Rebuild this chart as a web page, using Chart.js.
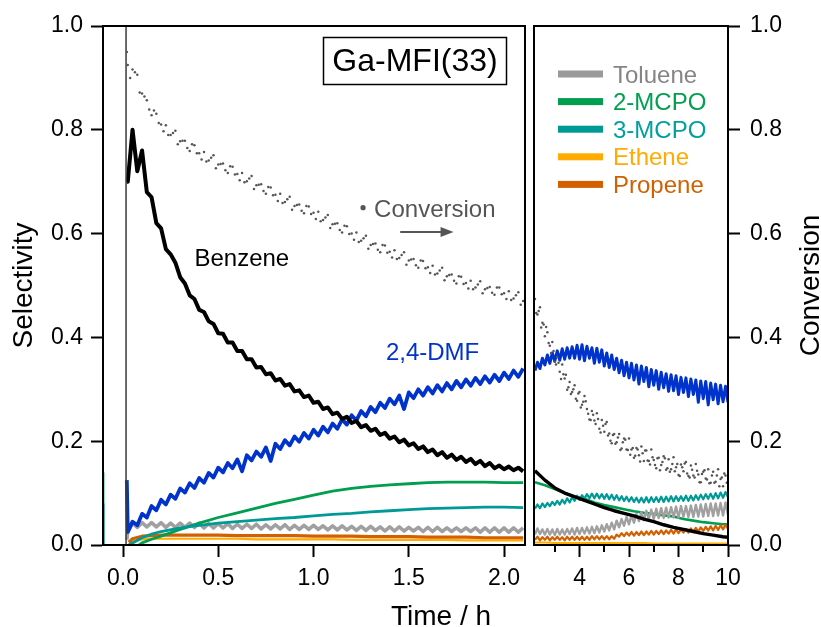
<!DOCTYPE html>
<html><head><meta charset="utf-8">
<script src="https://cdn.jsdelivr.net/npm/chart.js@4/dist/chart.umd.min.js"></script>
<style>
html,body{margin:0;padding:0;background:#fff;}
#wrap{position:relative;width:821px;height:627px;overflow:hidden;background:#fff;}
canvas{position:absolute;top:0;}
#cL{left:0;} #cR{left:530px;}
</style></head><body>
<div id="wrap"><canvas id="cL" width="530" height="627"></canvas><canvas id="cR" width="291" height="627"></canvas></div>
<script>
// ---------- tick labels ----------
const xTicksL = [0, 0.5, 1.0, 1.5, 2.0];
const xTicksR = [4, 6, 8, 10];
const xMinorR = [3, 5, 7, 9];
const yTicks = [0, 0.2, 0.4, 0.6, 0.8, 1.0];

// ---------- left panel (0 - 2.1 h) ----------
const tL = [0.02,0.025,0.05,0.075,0.1,0.125,0.15,0.175,0.2,0.225,0.25,0.275,0.3,0.325,0.35,0.375,0.4,0.425,0.45,0.475,0.5,0.525,0.55,0.575,0.6,0.625,0.65,0.675,0.7,0.725,0.75,0.775,0.8,0.825,0.85,0.875,0.9,0.925,0.95,0.975,1.0,1.025,1.05,1.075,1.1,1.125,1.15,1.175,1.2,1.225,1.25,1.275,1.3,1.325,1.35,1.375,1.4,1.425,1.45,1.475,1.5,1.525,1.55,1.575,1.6,1.625,1.65,1.675,1.7,1.725,1.75,1.775,1.8,1.825,1.85,1.875,1.9,1.925,1.95,1.975,2.0,2.025,2.05,2.075,2.1];
const tLm = [0.0375,0.0625,0.0875,0.1125,0.1375,0.1625,0.1875,0.2125,0.2375,0.2625,0.2875,0.3125,0.3375,0.3625,0.3875,0.4125,0.4375,0.4625,0.4875,0.5125,0.5375,0.5625,0.5875,0.6125,0.6375,0.6625,0.6875,0.7125,0.7375,0.7625,0.7875,0.8125,0.8375,0.8625,0.8875,0.9125,0.9375,0.9625,0.9875,1.0125,1.0375,1.0625,1.0875,1.1125,1.1375,1.1625,1.1875,1.2125,1.2375,1.2625,1.2875,1.3125,1.3375,1.3625,1.3875,1.4125,1.4375,1.4625,1.4875,1.5125,1.5375,1.5625,1.5875,1.6125,1.6375,1.6625,1.6875,1.7125,1.7375,1.7625,1.7875,1.8125,1.8375,1.8625,1.8875,1.9125,1.9375,1.9625,1.9875,2.0125,2.0375,2.0625,2.0875];
const tLc = [0.03,0.05,0.1,0.15,0.2,0.3,0.4,0.5,0.6,0.7,0.8,0.9,1.0,1.1,1.2,1.3,1.4,1.5,1.6,1.7,1.8,1.9,2.0,2.1];

const benzeneL = [0.70,
0.70,0.80,0.72,0.76,0.68,0.67,0.62,0.61,0.57,0.56,
0.544,0.516,0.504,0.481,0.474,0.453,0.449,0.431,0.426,0.408,
0.407,0.39,0.39,0.374,0.374,0.358,0.358,0.342,0.343,0.329,
0.331,0.317,0.32,0.307,0.31,0.296,0.298,0.285,0.288,0.274,
0.276,0.262,0.265,0.252,0.255,0.243,0.247,0.235,0.239,0.227,
0.231,0.22,0.224,0.212,0.216,0.205,0.209,0.198,0.203,0.192,
0.196,0.185,0.19,0.179,0.184,0.173,0.179,0.168,0.174,0.164,
0.17,0.16,0.166,0.156,0.162,0.152,0.158,0.148,0.153,0.146,
0.151,0.144,0.149,0.142];
const dmfL = [0.125,
0.025,0.045,0.038,0.06,0.053,0.075,0.067,0.087,0.078,0.097,
0.089,0.109,0.101,0.119,0.11,0.129,0.12,0.139,0.13,0.149,
0.14,0.158,0.148,0.165,0.142,0.173,0.163,0.18,0.17,0.188,
0.162,0.195,0.185,0.202,0.192,0.209,0.199,0.216,0.205,0.222,
0.211,0.228,0.217,0.234,0.224,0.242,0.232,0.25,0.24,0.258,
0.248,0.266,0.256,0.274,0.264,0.282,0.271,0.288,0.262,0.294,
0.283,0.3,0.288,0.304,0.292,0.308,0.296,0.312,0.3,0.316,
0.304,0.319,0.307,0.322,0.31,0.325,0.313,0.328,0.316,0.332,
0.32,0.336,0.324,0.34];
const tolueneL = [0.01,
0.025,0.042,0.034,0.043,0.035,0.043,0.035,0.043,0.034,0.042,0.034,
0.042,0.034,0.042,0.034,0.042,0.033,0.041,0.033,0.041,0.033,
0.041,0.032,0.04,0.032,0.04,0.032,0.04,0.031,0.039,0.031,
0.039,0.031,0.039,0.03,0.038,0.03,0.038,0.03,0.038,0.03,
0.037,0.029,0.037,0.029,0.037,0.029,0.036,0.028,0.036,0.028,
0.036,0.028,0.035,0.027,0.035,0.027,0.035,0.027,0.034,0.027,
0.034,0.026,0.034,0.026,0.034,0.026,0.033,0.026,0.033,0.026,
0.033,0.026,0.033,0.025,0.033,0.025,0.033,0.025,0.033,0.025,
0.033,0.025,0.033];
const convLA = [0.95,0.925,0.916,0.906,0.87,0.857,0.828,0.831,0.81,0.809,0.79,0.798,0.778,0.779,0.759,0.77,0.755,0.757,0.741,0.751,0.733,0.735,0.717,0.729,0.715,0.717,0.701,0.711,0.693,0.695,0.677,0.689,0.675,0.677,0.661,0.671,0.653,0.656,0.639,0.652,0.64,0.642,0.626,0.636,0.618,0.62,0.602,0.614,0.6,0.602,0.586,0.596,0.578,0.581,0.564,0.577,0.565,0.568,0.553,0.564,0.548,0.551,0.534,0.547,0.535,0.538,0.523,0.534,0.518,0.521,0.504,0.517,0.505,0.509,0.496,0.508,0.493,0.497,0.482,0.496,0.485,0.489,0.475,0.487,0.47];
const convLB = [0.9,0.911,0.872,0.864,0.839,0.837,0.813,0.797,0.79,0.794,
0.772,0.779,0.765,0.772,0.755,0.743,0.739,0.746,0.726,0.734,
0.722,0.73,0.714,0.703,0.699,0.706,0.686,0.694,0.682,0.69,
0.674,0.663,0.659,0.666,0.646,0.655,0.644,0.653,0.638,0.628,
0.624,0.631,0.611,0.619,0.607,0.615,0.599,0.588,0.584,0.591,
0.571,0.58,0.569,0.578,0.563,0.554,0.551,0.559,0.54,0.55,
0.539,0.548,0.533,0.524,0.521,0.529,0.51,0.52,0.509,0.518,
0.503,0.494,0.493,0.502,0.485,0.495,0.486,0.496,0.483,0.474,
0.472,0.481,0.463];
const mcpo2L = [-0.012,-0.008,0.004,0.011,0.017,0.03,0.042,0.053,0.062,0.071,0.08,0.088,0.096,0.104,0.109,0.113,0.116,0.118,0.12,0.121,0.121,0.121,0.12,0.12];
const mcpo3L = [0.0,0.004,0.014,0.021,0.026,0.033,0.038,0.042,0.045,0.048,0.051,0.053,0.056,0.059,0.061,0.064,0.066,0.068,0.07,0.071,0.072,0.073,0.073,0.072];
const propeneL = [0.005,0.012,0.017,0.018,0.019,0.019,0.019,0.019,0.018,0.018,0.018,0.018,0.017,0.017,0.017,0.016,0.016,0.016,0.015,0.015,0.015,0.014,0.014,0.014];
const etheneL = [0.0,0.007,0.011,0.012,0.012,0.012,0.012,0.012,0.012,0.011,0.011,0.011,0.011,0.011,0.01,0.01,0.01,0.01,0.01,0.01,0.009,0.009,0.009,0.009];
const startT = [0.016, 0.016];
const startV = [0, 1];
const preT = [-0.103, -0.103];
const preMcpo2 = [0, 0.14];
const preDmf = [0, 0.08];

// ---------- right panel (2.1 - 10 h) ----------
const tR = [2.2,2.3,2.4,2.5,2.6,2.7,2.8,2.9,3.0,3.1,3.2,3.3,3.4,3.5,3.6,3.7,3.8,3.9,4.0,4.1,4.2,4.3,4.4,4.5,4.6,4.7,4.8,4.9,5.0,5.1,5.2,5.3,5.4,5.5,5.6,5.7,5.8,5.9,6.0,6.1,6.2,6.3,6.4,6.5,6.6,6.7,6.8,6.9,7.0,7.1,7.2,7.3,7.4,7.5,7.6,7.7,7.8,7.9,8.0,8.1,8.2,8.3,8.4,8.5,8.6,8.7,8.8,8.9,9.0,9.1,9.2,9.3,9.4,9.5,9.6,9.7,9.8,9.9,10.0];
const tRm = [2.25,2.35,2.45,2.55,2.65,2.75,2.85,2.95,3.05,3.15,3.25,3.35,3.45,3.55,3.65,3.75,3.85,3.95,4.05,4.15,4.25,4.35,4.45,4.55,4.65,4.75,4.85,4.95,5.05,5.15,5.25,5.35,5.45,5.55,5.65,5.75,5.85,5.95,6.05,6.15,6.25,6.35,6.45,6.55,6.65,6.75,6.85,6.95,7.05,7.15,7.25,7.35,7.45,7.55,7.65,7.75,7.85,7.95,8.05,8.15,8.25,8.35,8.45,8.55,8.65,8.75,8.85,8.95,9.05,9.15,9.25,9.35,9.45,9.55,9.65,9.75,9.85,9.95];
const tRc = [2.2,2.6,3.0,3.4,3.8,4.2,4.6,5.0,5.4,5.8,6.2,6.6,7.0,7.4,7.8,8.2,8.6,9.0,9.4,9.8,10.0];

const dmfR = [0.336,0.352,0.34,0.36,0.347,0.366,0.35,0.37,0.354,0.374,
0.356,0.378,0.358,0.38,0.36,0.382,0.36,0.385,0.358,0.386,
0.355,0.383,0.36,0.38,0.35,0.379,0.352,0.376,0.345,0.37,
0.342,0.366,0.338,0.36,0.332,0.356,0.326,0.352,0.322,0.35,
0.318,0.347,0.31,0.345,0.315,0.342,0.305,0.338,0.308,0.336,
0.3,0.333,0.303,0.33,0.296,0.328,0.297,0.326,0.29,0.323,
0.294,0.322,0.286,0.32,0.29,0.318,0.275,0.316,0.282,0.315,
0.27,0.312,0.28,0.31,0.272,0.308,0.276,0.306,0.275];
const tolueneR = [0.02,0.032,0.021,0.03,0.02,0.031,0.02,0.03,0.019,0.031,
0.02,0.03,0.02,0.031,0.021,0.032,0.02,0.033,0.021,0.033,
0.022,0.034,0.022,0.035,0.023,0.036,0.024,0.038,0.026,0.04,
0.028,0.043,0.03,0.047,0.034,0.05,0.037,0.054,0.04,0.057,
0.043,0.06,0.046,0.063,0.048,0.066,0.05,0.068,0.05,0.07,
0.052,0.071,0.052,0.072,0.053,0.073,0.053,0.074,0.053,0.075,
0.054,0.075,0.054,0.076,0.054,0.077,0.055,0.078,0.055,0.079,
0.056,0.08,0.056,0.08,0.057,0.081,0.057,0.082,0.058];
const mcpo3R = [0.07,0.078,0.071,0.08,0.073,0.081,0.075,0.083,0.077,0.085,
0.078,0.087,0.08,0.09,0.082,0.092,0.085,0.095,0.087,0.096,
0.089,0.098,0.09,0.099,0.09,0.099,0.09,0.098,0.089,0.098,
0.088,0.097,0.087,0.096,0.086,0.094,0.085,0.093,0.084,0.092,
0.083,0.091,0.082,0.091,0.082,0.092,0.082,0.092,0.083,0.092,
0.083,0.093,0.083,0.093,0.084,0.094,0.084,0.094,0.085,0.094,
0.085,0.095,0.085,0.095,0.086,0.096,0.087,0.097,0.088,0.098,
0.089,0.099,0.089,0.1,0.09,0.101,0.091,0.102,0.092];
const propeneR = [0.01,0.016,0.009,0.015,0.01,0.016,0.009,0.015,0.01,0.016,
0.01,0.015,0.009,0.016,0.01,0.016,0.01,0.016,0.01,0.016,
0.01,0.016,0.01,0.017,0.011,0.017,0.011,0.017,0.011,0.017,
0.011,0.017,0.012,0.02,0.016,0.023,0.017,0.024,0.018,0.025,
0.018,0.025,0.019,0.026,0.019,0.026,0.02,0.027,0.02,0.027,
0.021,0.028,0.021,0.028,0.022,0.029,0.022,0.03,0.023,0.03,
0.024,0.031,0.024,0.032,0.025,0.033,0.026,0.034,0.027,0.035,
0.028,0.036,0.028,0.037,0.029,0.038,0.03,0.039,0.031];
const convRA = [0.474,0.444,0.458,0.428,0.402,0.41,0.384,0.391,0.353,0.362,
0.334,0.348,0.321,0.299,0.314,0.295,0.308,0.278,0.295,0.27,
0.287,0.262,0.242,0.258,0.24,0.254,0.224,0.241,0.218,0.237,
0.215,0.196,0.214,0.198,0.214,0.186,0.205,0.184,0.205,0.184,
0.168,0.187,0.173,0.19,0.162,0.182,0.162,0.184,0.164,0.148,
0.168,0.154,0.171,0.145,0.165,0.146,0.169,0.15,0.135,0.155,
0.142,0.16,0.133,0.153,0.134,0.156,0.136,0.121,0.141,0.128,
0.146,0.12,0.141,0.122,0.146,0.127,0.113,0.134,0.122];
const convRB = [0.447,0.451,0.419,0.425,0.42,0.389,0.37,0.374,0.348,0.351,
0.32,0.329,0.328,0.304,0.291,0.3,0.282,0.292,0.265,0.276,
0.277,0.253,0.241,0.251,0.233,0.243,0.217,0.23,0.233,0.211,
0.201,0.212,0.195,0.207,0.183,0.198,0.203,0.183,0.174,0.187,
0.172,0.184,0.161,0.177,0.182,0.163,0.155,0.169,0.154,0.167,
0.144,0.16,0.167,0.148,0.141,0.156,0.142,0.156,0.133,0.15,
0.157,0.138,0.13,0.145,0.13,0.143,0.121,0.137,0.144,0.126,
0.119,0.134,0.12,0.134,0.113,0.13,0.138,0.12];
const benzeneR = [0.143,0.125,0.11,0.1,0.093,0.086,0.079,0.072,0.066,0.061,0.056,0.05,0.045,0.039,0.034,0.03,0.026,0.022,0.019,0.016,0.015];
const mcpo2R = [0.121,0.115,0.108,0.1,0.094,0.089,0.082,0.077,0.073,0.069,0.065,0.062,0.06,0.057,0.055,0.05,0.047,0.044,0.042,0.04,0.04];
const etheneR = [0.005,0.005,0.004,0.004,0.004,0.004,0.004,0.004,0.004,0.004,0.004,0.004,0.003,0.003,0.003,0.003,0.003,0.003,0.003,0.003,0.003];

// ---------- legend ----------
const legendNames = ['Toluene', '2-MCPO', '3-MCPO', 'Ethene', 'Propene'];

// ---------- styling ----------
const FONT = "'Liberation Sans', Arial, Helvetica, sans-serif";
const C = {
  benzene: '#000000', dmf: '#0033cc', toluene: '#a0a0a0', mcpo2: '#009e4f',
  mcpo3: '#009a96', ethene: '#ffab00', propene: '#d25f00', conv: '#555555', start: '#3a3a3a'
};
const legendColors = ['#9a9a9a', C.mcpo2, C.mcpo3, C.ethene, C.propene];
const legendTextColors = ['#858585', '#00a050', '#00a0a0', '#ffab00', '#d06000'];

function pts(ts, vs) { const n = Math.min(ts.length, vs.length); const o = []; for (let i = 0; i < n; i++) o.push({x: ts[i], y: vs[i]}); return o; }
function lineDs(label, ts, vs, color, w) {
  return {label, data: pts(ts, vs), borderColor: color, backgroundColor: color, borderWidth: w,
    pointRadius: 0, pointHoverRadius: 0, showLine: true, tension: 0, fill: false, clip: 0,
    borderJoinStyle: 'round', borderCapStyle: 'butt'};
}
function dotDs(label, ts, vs, color) {
  return {label, data: pts(ts, vs), borderColor: color, backgroundColor: color, pointRadius: 1.25,
    pointBorderWidth: 0, pointHoverRadius: 0, showLine: false, clip: 0};
}
function axis(extra) {
  const base = {
    type: 'linear',
    border: {display: true, color: '#000', width: 2},
    grid: {drawOnChartArea: false, drawTicks: true, tickLength: 12, tickWidth: 2, tickColor: '#000', color: '#000'},
    ticks: {font: {family: FONT, size: 23}, color: '#000', padding: 8, maxRotation: 0, autoSkip: false}
  };
  return Object.assign(base, extra);
}

const annotL = {
  id: 'annotL',
  afterDraw(chart) {
    const ctx = chart.ctx, a = chart.chartArea;
    const xs = chart.scales.x, ys = chart.scales.y;
    ctx.save();
    ctx.strokeStyle = '#000'; ctx.lineWidth = 2;
    ctx.strokeRect(a.left, a.top, a.right - a.left, a.bottom - a.top);
    ctx.fillStyle = '#000';
    ctx.font = '28px ' + FONT;
    ctx.textAlign = 'center'; ctx.textBaseline = 'alphabetic';
    ctx.save(); ctx.translate(32, (a.top + a.bottom) / 2); ctx.rotate(-Math.PI / 2);
    ctx.fillText('Selectivity', 0, 0); ctx.restore();
    ctx.fillText('Time / h', 441, 625);
    ctx.lineWidth = 1.5;
    ctx.strokeRect(323.5, 37.5, 183, 47);
    ctx.font = '32px ' + FONT;
    ctx.fillText('Ga-MFI(33)', 415, 71);
    ctx.font = '24px ' + FONT;
    ctx.textAlign = 'left';
    ctx.fillText('Benzene', xs.getPixelForValue(0.375), ys.getPixelForValue(0.537));
    ctx.fillStyle = C.dmf;
    ctx.fillText('2,4-DMF', xs.getPixelForValue(1.38), ys.getPixelForValue(0.356));
    ctx.fillStyle = C.conv;
    ctx.fillText('Conversion', xs.getPixelForValue(1.318), ys.getPixelForValue(0.632));
    ctx.beginPath(); ctx.arc(xs.getPixelForValue(1.26), ys.getPixelForValue(0.65), 2.6, 0, Math.PI * 2); ctx.fill();
    const ay = ys.getPixelForValue(0.603), ax0 = xs.getPixelForValue(1.455), ax1 = xs.getPixelForValue(1.735);
    ctx.strokeStyle = C.conv; ctx.lineWidth = 2;
    ctx.beginPath(); ctx.moveTo(ax0, ay); ctx.lineTo(ax1 - 8, ay); ctx.stroke();
    ctx.beginPath(); ctx.moveTo(ax1, ay); ctx.lineTo(ax1 - 13, ay - 5); ctx.lineTo(ax1 - 13, ay + 5); ctx.closePath(); ctx.fill();
    ctx.restore();
  }
};

const annotR = {
  id: 'annotR',
  afterDraw(chart) {
    const ctx = chart.ctx, a = chart.chartArea, xs = chart.scales.x;
    ctx.save();
    ctx.strokeStyle = '#000'; ctx.lineWidth = 2;
    ctx.strokeRect(a.left, a.top, a.right - a.left, a.bottom - a.top);
    ctx.beginPath();
    xMinorR.forEach(v => { const x = Math.round(xs.getPixelForValue(v)); ctx.moveTo(x, a.bottom); ctx.lineTo(x, a.bottom + 7); });
    ctx.stroke();
    ctx.font = '24px ' + FONT; ctx.textAlign = 'left'; ctx.textBaseline = 'alphabetic';
    legendNames.forEach((name, i) => {
      const cy = 74 + i * 27.6;
      ctx.fillStyle = legendColors[i];
      ctx.fillRect(a.left + 24, cy - 3.5, 45, 7);
      ctx.fillStyle = legendTextColors[i];
      ctx.fillText(name, a.left + 79, cy + 8.5);
    });
    ctx.fillStyle = '#000'; ctx.font = '28px ' + FONT; ctx.textAlign = 'center';
    ctx.save(); ctx.translate(289, (a.top + a.bottom) / 2); ctx.rotate(-Math.PI / 2);
    ctx.fillText('Conversion', 0, 0); ctx.restore();
    ctx.restore();
  }
};

const common = {
  responsive: false, animation: false, devicePixelRatio: 1,
  plugins: {legend: {display: false}, tooltip: {enabled: false}, title: {display: false}},
  events: []
};

new Chart(document.getElementById('cL'), {
  type: 'scatter',
  data: {datasets: [
    dotDs('Conversion', tL, convLA, C.conv),
    dotDs('Conversion b', tLm, convLB, C.conv),
    lineDs('start', startT, startV, C.start, 1.5),
    lineDs('Benzene', tL, benzeneL, C.benzene, 4),
    lineDs('2,4-DMF', tL, dmfL, C.dmf, 3.8),
    lineDs('3-MCPO', tLc, mcpo3L, C.mcpo3, 2.8),
    lineDs('2-MCPO', tLc, mcpo2L, C.mcpo2, 2.8),
    lineDs('Propene', tLc, propeneL, C.propene, 3.2),
    lineDs('Ethene', tLc, etheneL, C.ethene, 2.2),
    lineDs('Toluene', tL, tolueneL, C.toluene, 3.6),
    lineDs('2-MCPO pre', preT, preMcpo2, C.mcpo2, 2),
    lineDs('2,4-DMF pre', preT, preDmf, C.dmf, 2)
  ]},
  options: Object.assign({}, common, {
    layout: {padding: {left: 0, top: 26, right: 5, bottom: 0}},
    scales: {
      x: axis({min: -0.105, max: 2.11, position: 'bottom',
        afterBuildTicks: s => { s.ticks = xTicksL.map(v => ({value: v})); },
        afterFit: s => { s.height = 82; },
        ticks: {font: {family: FONT, size: 23}, color: '#000', padding: 8, maxRotation: 0, autoSkip: false,
          callback: v => Number(v).toFixed(1)}}),
      y: axis({min: 0, max: 1, position: 'left',
        afterBuildTicks: s => { s.ticks = yTicks.map(v => ({value: v})); },
        afterFit: s => { s.width = 103; },
        ticks: {font: {family: FONT, size: 23}, color: '#000', padding: 8,
          callback: v => Number(v).toFixed(1)}})
    }
  }),
  plugins: [annotL]
});

new Chart(document.getElementById('cR'), {
  type: 'scatter',
  data: {datasets: [
    dotDs('Conversion', tR, convRA, C.conv),
    dotDs('Conversion b', tRm, convRB, C.conv),
    lineDs('Benzene', tRc, benzeneR, C.benzene, 3.4),
    lineDs('2,4-DMF', tR, dmfR, C.dmf, 3),
    lineDs('3-MCPO', tR, mcpo3R, C.mcpo3, 2.2),
    lineDs('Propene', tR, propeneR, C.propene, 2.2),
    lineDs('Toluene', tR, tolueneR, C.toluene, 2.4),
    lineDs('Ethene', tRc, etheneR, C.ethene, 2),
    lineDs('2-MCPO', tRc, mcpo2R, C.mcpo2, 2.6)
  ]},
  options: Object.assign({}, common, {
    layout: {padding: {left: 4, top: 26, right: 0, bottom: 0}},
    scales: {
      x: axis({min: 2.16, max: 10, position: 'bottom',
        afterBuildTicks: s => { s.ticks = xTicksR.map(v => ({value: v})); },
        afterFit: s => { s.height = 82; },
        ticks: {font: {family: FONT, size: 23}, color: '#000', padding: 8, maxRotation: 0, autoSkip: false,
          callback: v => String(v)}}),
      y: axis({min: 0, max: 1, position: 'right',
        afterBuildTicks: s => { s.ticks = yTicks.map(v => ({value: v})); },
        afterFit: s => { s.width = 93; },
        ticks: {font: {family: FONT, size: 23}, color: '#000', padding: 10,
          callback: v => Number(v).toFixed(1)}})
    }
  }),
  plugins: [annotR]
});
</script></body></html>
